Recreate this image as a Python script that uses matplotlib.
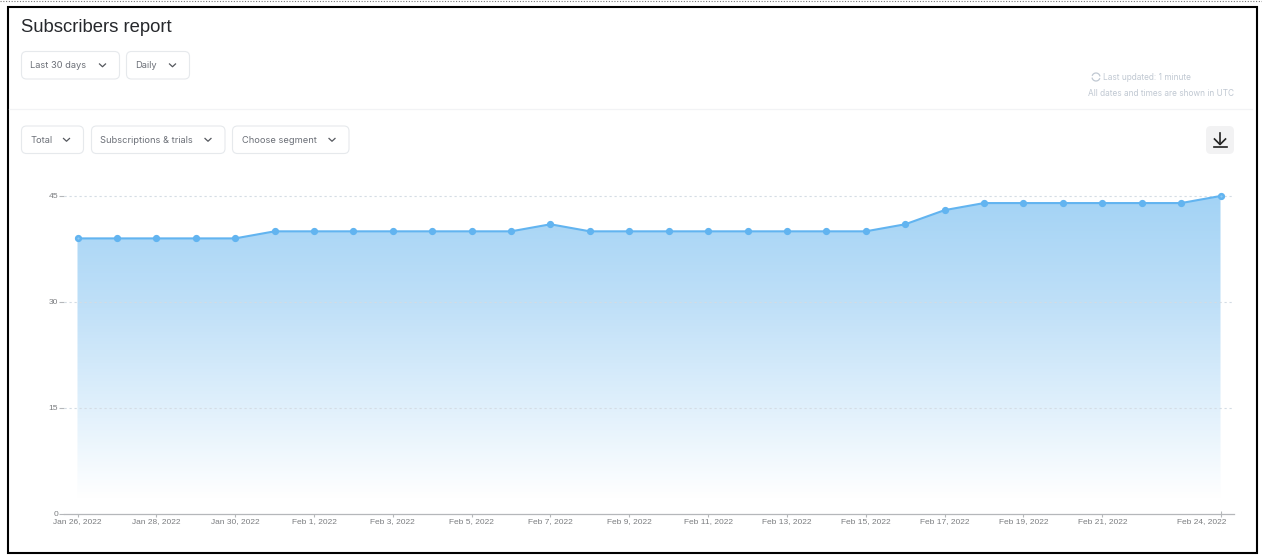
#!/usr/bin/env python3
"""Subscribers report screenshot: area chart plus the surrounding page controls."""

import matplotlib
matplotlib.use("Agg")

import matplotlib.pyplot as plt
import numpy as np
import pandas as pd
from matplotlib.colors import LinearSegmentedColormap
from matplotlib.patches import FancyBboxPatch, Rectangle
from matplotlib.transforms import ScaledTranslation

WIDTH, HEIGHT = 1262, 556

dates = pd.date_range("2022-01-26", "2022-02-24", freq="D")
subscribers = [39, 39, 39, 39, 39, 40, 40, 40, 40, 40, 40, 40, 41, 40, 40,
               40, 40, 40, 40, 40, 40, 41, 43, 44, 44, 44, 44, 44, 44, 45]

y_ticks = [0, 15, 30, 45]
x_tick_dates = ["2022-01-26", "2022-01-28", "2022-01-30", "2022-02-01",
                "2022-02-03", "2022-02-05", "2022-02-07", "2022-02-09",
                "2022-02-11", "2022-02-13", "2022-02-15", "2022-02-17",
                "2022-02-19", "2022-02-21", "2022-02-24"]
x_tick_labels = ["Jan 26, 2022", "Jan 28, 2022", "Jan 30, 2022", "Feb 1, 2022",
                 "Feb 3, 2022", "Feb 5, 2022", "Feb 7, 2022", "Feb 9, 2022",
                 "Feb 11, 2022", "Feb 13, 2022", "Feb 15, 2022", "Feb 17, 2022",
                 "Feb 19, 2022", "Feb 21, 2022", "Feb 24, 2022"]

# label, left, right, top, bottom of the dropdowns
dropdowns = [("Last 30 days", 21.5, 119.5, 51.5, 79),
             ("Daily", 126.5, 189.5, 51.5, 79),
             ("Total", 21.5, 83.5, 126, 153.5),
             ("Subscriptions & trials", 91.5, 225, 126, 153.5),
             ("Choose segment", 232.5, 349, 126, 153.5)]

LINE = "#62b4f0"
TEXT = "#6c7078"
UI_FONT = ["Inter", "DejaVu Sans"]
TICK_FONT = ["Liberation Sans", "DejaVu Sans"]

fig = plt.figure(figsize=(WIDTH / 100, HEIGHT / 100), dpi=100, facecolor="white")

# page layer, in pixel coordinates
ui = fig.add_axes([0, 0, 1, 1], zorder=0)
ui.set_xlim(0, WIDTH)
ui.set_ylim(HEIGHT, 0)
ui.axis("off")

ui.plot([0, WIDTH], [1, 1], color="#777777", lw=0.8, ls=(0, (1, 1.5)))
ui.add_patch(Rectangle((7.5, 7), 1249, 546, fill=False, ec="black", lw=1.5))
ui.plot([9, 1252], [108.5, 108.5], color="#f2f3f5", lw=0.9)

ui.text(21, 27.5, "Subscribers report", fontsize=13.3, family=TICK_FONT,
        color="#26282c", va="center", ha="left")

for label, left, right, top, bottom in dropdowns:
    ui.add_patch(FancyBboxPatch((left + 4, top + 4), right - left - 8, bottom - top - 8,
                                boxstyle="round,pad=4,rounding_size=5",
                                fc="white", ec="#e6e9ec", lw=0.8))
    ui.text(left + 9, (top + bottom) / 2 + 0.7, label, fontsize=6.7, family=UI_FONT,
            color=TEXT, va="center", ha="left")
    cx = right - 17
    cy = (top + bottom) / 2
    ui.plot([cx - 3, cx, cx + 3], [cy - 1.3, cy + 1.5, cy - 1.3],
            color="#55585e", lw=0.9)

ui.text(1191, 77, "Last updated: 1 minute", fontsize=6.0, family=UI_FONT,
        color="#c0c8d2", va="center", ha="right")
ui.text(1234, 93, "All dates and times are shown in UTC", fontsize=5.95, family=UI_FONT,
        color="#c0c8d2", va="center", ha="right")
# refresh glyph next to the timestamp
theta = np.linspace(0.3, 2.7, 20)
ui.plot(1096 + 4 * np.cos(theta), 77 - 4 * np.sin(theta), color="#c0c8d2", lw=0.9)
ui.plot(1096 + 4 * np.cos(theta + np.pi), 77 - 4 * np.sin(theta + np.pi),
        color="#c0c8d2", lw=0.9)

# download button
ui.add_patch(FancyBboxPatch((1211, 131), 18, 18,
                            boxstyle="round,pad=5,rounding_size=5",
                            fc="#f2f2f3", ec="none"))
ui.plot([1220, 1220], [133, 144], color="#222222", lw=1.2)
ui.plot([1214.5, 1220, 1225.5], [139, 144.5, 139], color="#222222", lw=1.2)
ui.plot([1213.5, 1226.5], [147, 147], color="#222222", lw=1.2)

# chart layer: y=0 at pixel 514, y=45 at pixel 196
left_px, right_px, top_px, bottom_px = 64, 1234, 196, 514
ax = fig.add_axes([left_px / WIDTH, 1 - bottom_px / HEIGHT,
                   (right_px - left_px) / WIDTH, (bottom_px - top_px) / HEIGHT],
                  zorder=1)
ax.patch.set_alpha(0)

day_px = (1220.5 - 77.5) / (len(dates) - 1)
ax.set_xlim(dates[0] - pd.Timedelta(days=(77.5 - left_px) / day_px),
            dates[-1] + pd.Timedelta(days=(right_px - 1220.5) / day_px))
ax.set_ylim(0, 45)
x_range = ax.get_xlim()

for value in y_ticks[1:]:
    ax.axhline(value, color="#d4dce4", lw=0.8, ls=(0, (2, 2.5)), zorder=2.5, clip_on=False)

# vertical gradient clipped to the area under the line
area = ax.fill_between(dates, subscribers, 0, color="none", zorder=2)
gradient = np.linspace(0, 1, 256).reshape(-1, 1)
cmap = LinearSegmentedColormap.from_list(
    "fade", [(0, "#a3d3f5"), (0.35, "#c0e0f8"), (0.7, "#e4f2fc"), (0.95, "#ffffff"), (1, "#ffffff")])
image = ax.imshow(gradient, extent=[x_range[0], x_range[1], 0, 45], origin="upper",
                  aspect="auto", cmap=cmap, zorder=2)
image.set_clip_path(area.get_paths()[0], transform=ax.transData)
ax.set_xlim(x_range)
ax.set_ylim(0, 45)

ax.plot(dates, subscribers, color=LINE, lw=1.5, marker="o", ms=4.2,
        mfc=LINE, mec=LINE, zorder=3, clip_on=False)
# first and last points have a paler centre
ax.plot(dates[[0, -1]], [subscribers[0], subscribers[-1]], ls="none", marker="o", ms=1.6,
        mfc="#8cc9f4", mec="none", zorder=4, clip_on=False)

for side in ("top", "right", "left"):
    ax.spines[side].set_visible(False)
ax.spines["bottom"].set_color("#b5b7ba")
ax.spines["bottom"].set_linewidth(0.9)

ax.set_yticks(y_ticks)
ax.set_yticklabels([str(v) for v in y_ticks], family=TICK_FONT)
ax.tick_params(axis="y", length=3.6, width=0.8, color="#b5b7ba", labelcolor="#7b7d80",
               labelsize=6.1, pad=0.8, direction="out")

ax.set_xticks(pd.to_datetime(x_tick_dates))
ax.set_xticklabels(x_tick_labels, family=TICK_FONT)
ax.tick_params(axis="x", length=4, width=0.8, color="#b5b7ba", labelcolor="#7b7d80",
               labelsize=6.05, pad=0.8, direction="inout")
ax.tick_params(axis="both", which="minor", length=0)

# the last date label sits left of its tick so it stays inside the plot
last_label = ax.get_xticklabels()[-1]
last_label.set_ha("right")
last_label.set_transform(last_label.get_transform()
                         + ScaledTranslation(6 / 100, 0, fig.dpi_scale_trans))

fig.savefig("out.png", dpi=100)
plt.close(fig)
